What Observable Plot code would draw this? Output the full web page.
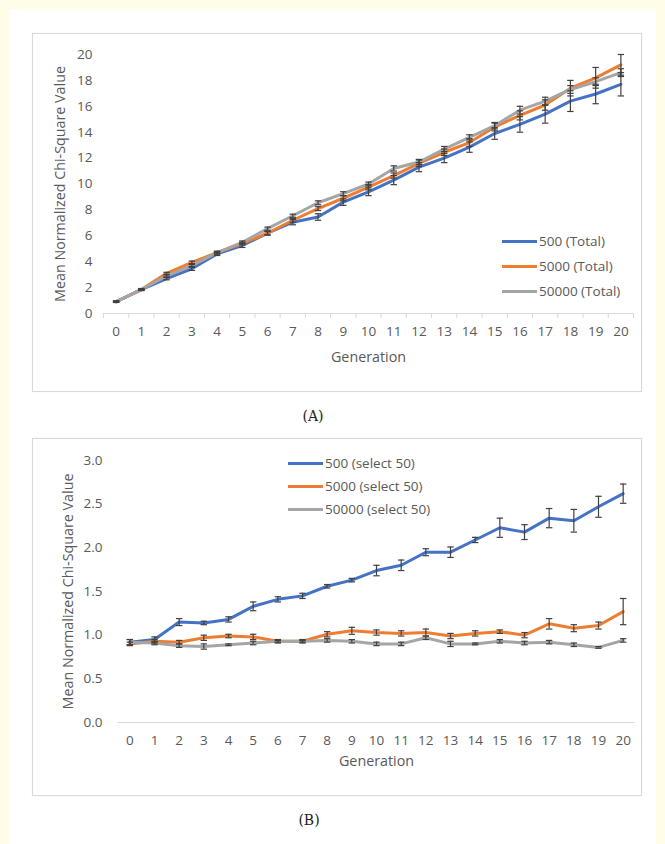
<!DOCTYPE html>
<html>
<head>
<meta charset="utf-8">
<script src="https://cdn.jsdelivr.net/npm/d3@7"></script>
<script src="https://cdn.jsdelivr.net/npm/@observablehq/plot@0.6"></script>
<style>
  html, body { margin: 0; padding: 0; }
  body { width: 665px; height: 844px; background: #FFFDE8; position: relative; overflow: hidden; font-family: "Open Sans", sans-serif; }
  #page { position: absolute; left: 9px; top: 9px; width: 647px; height: 835px; background: #fff; }
  .box { position: absolute; border: 1px solid #d9d9d9; box-shadow: 0 0 1px #e6e6e6; background: #fff; }
  .box svg { position: absolute; left: 0; top: 0; }
  .leg { position: absolute; font: 13.5px "Open Sans", sans-serif; color: #595959; white-space: nowrap; }
  .leg span.sw { position: absolute; left: 0; top: 8px; width: 35px; height: 3px; }
  .leg span.tx { position: absolute; left: 37px; top: 0; line-height: 19px; }
  .cap { position: absolute; font: 14px "DejaVu Serif", "Liberation Serif", serif; color: #222; transform: translate(-50%, -50%); }
</style>
</head>
<body>
<div id="page"></div>
<div class="box" id="boxA" style="left:32px; top:33px; width:608px; height:357px;"></div>
<div class="box" id="boxB" style="left:32px; top:438px; width:608px; height:356px;"></div>
<div class="cap" style="left:313px; top:416px;">(A)</div>
<div class="cap" style="left:309px; top:820px;">(B)</div>
<script>
// ---- data ----
const generations = [0,1,2,3,4,5,6,7,8,9,10,11,12,13,14,15,16,17,18,19,20];

const seriesA = ["500 (Total)", "5000 (Total)", "50000 (Total)"];
const a500     = [0.92,1.85,2.70,3.45,4.60,5.25,6.20,7.05,7.45,8.60,9.40,10.30,11.30,12.00,12.85,13.90,14.60,15.40,16.40,16.95,17.70];
const a500err  = [0.05,0.08,0.10,0.12,0.12,0.15,0.15,0.20,0.25,0.25,0.30,0.35,0.35,0.35,0.40,0.45,0.60,0.70,0.80,0.75,0.90];
const a5000    = [0.90,1.85,3.10,3.95,4.70,5.40,6.20,7.20,8.10,8.90,9.75,10.65,11.60,12.45,13.20,14.40,15.30,16.10,17.40,18.20,19.20];
const a5000err = [0.05,0.05,0.08,0.10,0.10,0.10,0.12,0.15,0.15,0.20,0.20,0.20,0.25,0.25,0.30,0.30,0.35,0.40,0.60,0.80,0.80];
const a50000   = [0.92,1.85,2.90,3.70,4.70,5.50,6.55,7.55,8.55,9.25,10.00,11.20,11.70,12.70,13.60,14.50,15.70,16.40,17.30,17.90,18.60];
const a50000err= [0.05,0.05,0.08,0.08,0.10,0.10,0.12,0.12,0.15,0.15,0.15,0.20,0.20,0.20,0.20,0.25,0.30,0.30,0.30,0.30,0.30];

const seriesB = ["500 (select 50)", "5000 (select 50)", "50000 (select 50)"];
const b500     = [0.92,0.95,1.15,1.14,1.18,1.33,1.41,1.45,1.56,1.63,1.74,1.80,1.95,1.95,2.09,2.23,2.18,2.34,2.31,2.47,2.62];
const b500err  = [0.03,0.03,0.04,0.02,0.03,0.05,0.03,0.03,0.02,0.02,0.06,0.06,0.04,0.06,0.03,0.11,0.085,0.11,0.13,0.12,0.11];
const b5000    = [0.90,0.93,0.92,0.97,0.99,0.98,0.93,0.93,1.01,1.05,1.03,1.02,1.03,0.99,1.02,1.04,1.00,1.13,1.08,1.11,1.27];
const b5000err = [0.02,0.02,0.02,0.03,0.02,0.03,0.02,0.02,0.03,0.04,0.03,0.03,0.04,0.03,0.03,0.02,0.03,0.06,0.04,0.04,0.15];
const b50000   = [0.92,0.91,0.88,0.87,0.89,0.91,0.93,0.93,0.94,0.93,0.90,0.90,0.97,0.90,0.90,0.93,0.91,0.92,0.89,0.86,0.94];
const b50000err= [0.03,0.02,0.02,0.03,0.01,0.02,0.01,0.01,0.02,0.02,0.02,0.02,0.02,0.03,0.01,0.02,0.02,0.02,0.02,0.01,0.02];

const yTicksA = [0,2,4,6,8,10,12,14,16,18,20];
const yTicksB = [0,0.5,1.0,1.5,2.0,2.5,3.0];
const colors = ["#4472C4", "#ED7D31", "#A5A5A5"];

function rows(names, vals, errs) {
  const out = [];
  names.forEach((s, i) => generations.forEach((g, j) => out.push({series: s, gen: g, v: vals[i][j], e: errs[i][j]})));
  return out;
}
const dataA = rows(seriesA, [a500, a5000, a50000], [a500err, a5000err, a50000err]);
const dataB = rows(seriesB, [b500, b5000, b50000], [b500err, b5000err, b50000err]);

const capSymbol = { draw(ctx, size) { const w = Math.sqrt(size / Math.PI); ctx.moveTo(-w, 0); ctx.lineTo(w, 0); } };
const bounds = generations.map(g => g - 0.5).concat([generations[generations.length - 1] + 0.5]);
const txt = "#595959";
const font = "Open Sans";

function chart({data, names, yDomain, yTicks, fmt, mL, mR, mT, mB, w, h, tickPadY, titleDx, genDy, boundaryTicks}) {
  const marks = [
    Plot.ruleY([0], {stroke: "#d9d9d9", strokeWidth: 1}),
    Plot.axisY(yTicks, {tickSize: 0, tickPadding: tickPadY, tickFormat: fmt, fill: txt, fontSize: 13.5, label: null}),
    Plot.axisX(generations, {tickSize: 0, tickPadding: 13, fill: txt, fontSize: 13.5, label: null}),
  ];
  if (boundaryTicks) marks.push(Plot.axisX(bounds, {tickSize: 5, stroke: "#d9d9d9", tickFormat: () => "", label: null}));
  marks.push(
    Plot.line(data, {x: "gen", y: "v", stroke: "series", z: "series", strokeWidth: 3, strokeLinejoin: "round", strokeLinecap: "round"}),
    Plot.ruleX(data, {x: "gen", y1: d => d.v - d.e, y2: d => d.v + d.e, stroke: "#404040", strokeWidth: 1.2}),
    Plot.dot(data, {x: "gen", y: d => d.v + d.e, symbol: capSymbol, r: 3.2, stroke: "#404040", strokeWidth: 1.2, fill: "none"}),
    Plot.dot(data, {x: "gen", y: d => d.v - d.e, symbol: capSymbol, r: 3.2, stroke: "#404040", strokeWidth: 1.2, fill: "none"}),
    Plot.text(["Mean Normalized Chi-Square Value"], {frameAnchor: "left", rotate: -90, dx: titleDx, textAnchor: "middle", fill: txt, fontSize: 14.3}),
    Plot.text(["Generation"], {frameAnchor: "bottom", dy: genDy, textAnchor: "middle", fill: txt, fontSize: 14.3})
  );
  return Plot.plot({
    width: w, height: h,
    marginLeft: mL, marginRight: mR, marginTop: mT, marginBottom: mB,
    style: {fontFamily: font, background: "transparent", overflow: "visible"},
    x: {type: "linear", domain: [-0.5, 20.5], axis: null},
    y: {domain: yDomain, axis: null},
    color: {domain: names, range: colors},
    marks
  });
}

const svgA = chart({data: dataA, names: seriesA, yDomain: [0, 20], yTicks: yTicksA, fmt: d => String(d),
  mL: 70, mR: 8, mT: 20, mB: 78, w: 608, h: 357, tickPadY: 11, titleDx: -43, genDy: 48, boundaryTicks: true});
const svgB = chart({data: dataB, names: seriesB, yDomain: [0, 3], yTicks: yTicksB, fmt: d3.format(".1f"),
  mL: 84, mR: 6, mT: 21, mB: 73, w: 608, h: 356, tickPadY: 15, titleDx: -49, genDy: 43, boundaryTicks: false});
document.getElementById("boxA").appendChild(svgA);
document.getElementById("boxB").appendChild(svgB);

function legend(names, left, tops) {
  names.forEach((n, i) => {
    const d = document.createElement("div");
    d.className = "leg";
    d.style.left = left + "px";
    d.style.top = (tops[i] - 9.5) + "px";
    d.innerHTML = `<span class="sw" style="background:${colors[i]}"></span><span class="tx">${n}</span>`;
    document.body.appendChild(d);
  });
}
legend(seriesA, 502, [241, 266, 291]);
legend(seriesB, 288, [463, 486, 509]);
</script>
</body>
</html>
